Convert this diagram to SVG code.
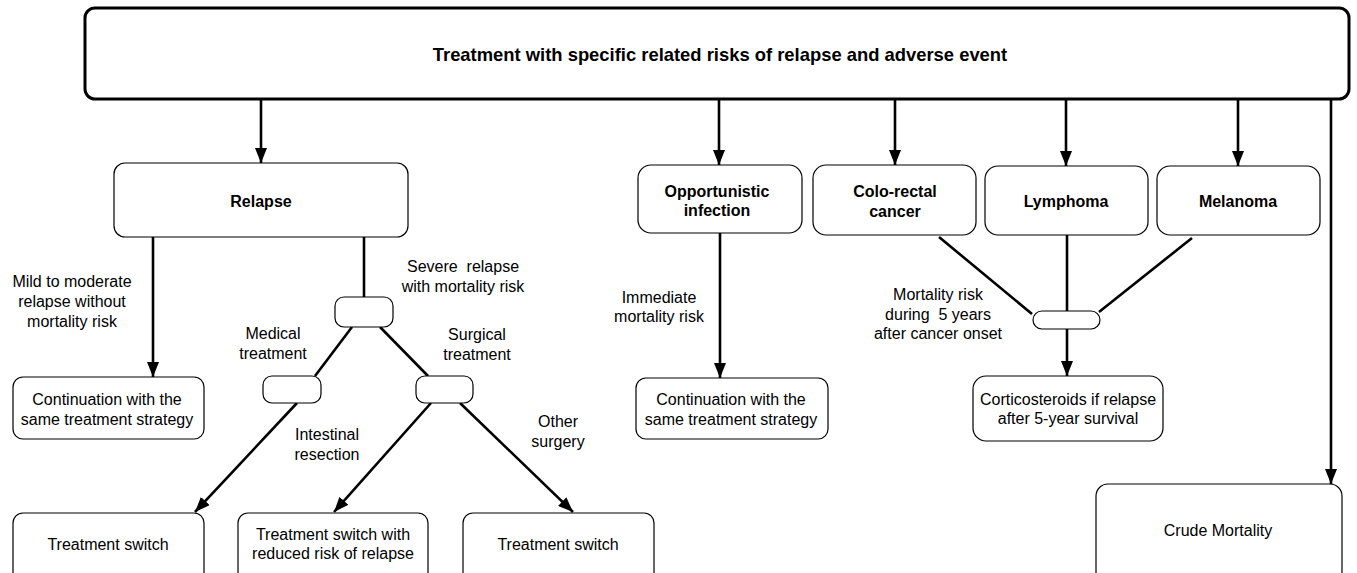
<svg xmlns="http://www.w3.org/2000/svg" width="1357" height="573" viewBox="0 0 1357 573">
<defs>
<marker id="ah" markerUnits="userSpaceOnUse" markerWidth="15" markerHeight="12" refX="15" refY="6" orient="auto">
<path d="M0,0 L15,6 L0,12 z" fill="#000"/>
</marker>
<style>
.box{fill:#fff;stroke:#000;stroke-width:1.2}
.top{fill:#fff;stroke:#000;stroke-width:3}
.c{stroke:#000;stroke-width:2.6;fill:none}
.a{marker-end:url(#ah)}
text{font-family:"Liberation Sans",Arial,sans-serif;font-size:16px;fill:#000;text-anchor:middle}
.b{font-weight:bold}
.t{font-weight:bold;font-size:18.4px}
.pre{white-space:pre}
</style>
</defs>
<rect width="1357" height="573" fill="#fff"/>
<g id="connectors">
<line class="c a" x1="261" y1="99" x2="261" y2="163"/>
<line class="c a" x1="719" y1="99" x2="719" y2="165"/>
<line class="c a" x1="895" y1="99" x2="895" y2="165"/>
<line class="c a" x1="1066" y1="99" x2="1066" y2="166"/>
<line class="c a" x1="1238" y1="99" x2="1238" y2="166"/>
<line class="c a" x1="1331" y1="99" x2="1331" y2="484"/>
<line class="c a" x1="153" y1="237" x2="153" y2="377"/>
<line class="c" x1="364" y1="237" x2="364" y2="297"/>
<line class="c" x1="352" y1="327" x2="315" y2="376"/>
<line class="c" x1="380" y1="327" x2="428" y2="376"/>
<line class="c a" x1="297" y1="403" x2="195" y2="512"/>
<line class="c a" x1="431" y1="403" x2="334" y2="512"/>
<line class="c a" x1="460" y1="403" x2="573" y2="512"/>
<line class="c a" x1="720" y1="233" x2="720" y2="378"/>
<line class="c" x1="939" y1="237" x2="1032" y2="314"/>
<line class="c" x1="1067" y1="235" x2="1067" y2="311"/>
<line class="c" x1="1192" y1="238" x2="1099" y2="312"/>
<line class="c a" x1="1067" y1="329" x2="1067" y2="376"/>
</g>
<g id="n-top"><rect class="top" x="85" y="8" width="1264" height="91" rx="10"/><text class="t" x="720" y="61">Treatment with specific related risks of relapse and adverse event</text></g>
<g id="n-relapse"><rect class="box" x="114" y="163" width="294" height="74" rx="11"/><text class="b" x="261" y="207">Relapse</text></g>
<g id="n-opp"><rect class="box" x="638" y="165" width="164" height="68" rx="13"/><text class="b" x="717" y="197">Opportunistic</text><text class="b" x="717" y="216">infection</text></g>
<g id="n-colo"><rect class="box" x="813" y="165" width="163" height="70" rx="13"/><text class="b" x="895" y="197">Colo-rectal</text><text class="b" x="895" y="217">cancer</text></g>
<g id="n-lymph"><rect class="box" x="985" y="166" width="163" height="69" rx="13"/><text class="b" x="1066" y="207">Lymphoma</text></g>
<g id="n-mel"><rect class="box" x="1157" y="166" width="163" height="69" rx="13"/><text class="b" x="1238" y="207">Melanoma</text></g>
<g id="n-cont1"><rect class="box" x="13" y="377" width="191" height="62" rx="10"/><text x="107" y="405">Continuation with the</text><text x="107" y="425">same treatment strategy</text></g>
<g id="n-j1"><rect class="box" x="335" y="297" width="58" height="30" rx="9"/></g>
<g id="n-j2"><rect class="box" x="263" y="376" width="58" height="27" rx="9"/></g>
<g id="n-j3"><rect class="box" x="416" y="376" width="57" height="27" rx="9"/></g>
<g id="n-sw1"><rect class="box" x="13" y="513" width="191" height="70" rx="10"/><text x="108" y="550">Treatment switch</text></g>
<g id="n-sw2"><rect class="box" x="238" y="513" width="190" height="70" rx="10"/><text x="333" y="540">Treatment switch with</text><text x="333" y="559">reduced risk of relapse</text></g>
<g id="n-sw3"><rect class="box" x="463" y="513" width="191" height="70" rx="10"/><text x="558" y="550">Treatment switch</text></g>
<g id="n-cont2"><rect class="box" x="636" y="378" width="192" height="61" rx="10"/><text x="731" y="405">Continuation with the</text><text x="731" y="425">same treatment strategy</text></g>
<g id="n-j4"><rect class="box" x="1033" y="311" width="67" height="18" rx="9"/></g>
<g id="n-cort"><rect class="box" x="973" y="376" width="190" height="65" rx="13"/><text x="1068" y="405">Corticosteroids if relapse</text><text x="1068" y="424">after 5-year survival</text></g>
<g id="n-crude"><rect class="box" x="1096" y="484" width="246" height="100" rx="12"/><text x="1218" y="536">Crude Mortality</text></g>
<g id="labels">
<text x="72" y="287">Mild to moderate</text><text x="72" y="307">relapse without</text><text x="72" y="327">mortality risk</text>
<text class="pre" x="463" y="272">Severe  relapse</text><text x="463" y="292">with mortality risk</text>
<text x="273" y="339">Medical</text><text x="273" y="359">treatment</text>
<text x="477" y="340">Surgical</text><text x="477" y="360">treatment</text>
<text x="327" y="440">Intestinal</text><text x="327" y="460">resection</text>
<text x="558" y="427">Other</text><text x="558" y="447">surgery</text>
<text x="659" y="303">Immediate</text><text x="659" y="322">mortality risk</text>
<text x="938" y="300">Mortality risk</text><text class="pre" x="938" y="320">during  5 years</text><text x="938" y="339">after cancer onset</text>
</g>
</svg>
